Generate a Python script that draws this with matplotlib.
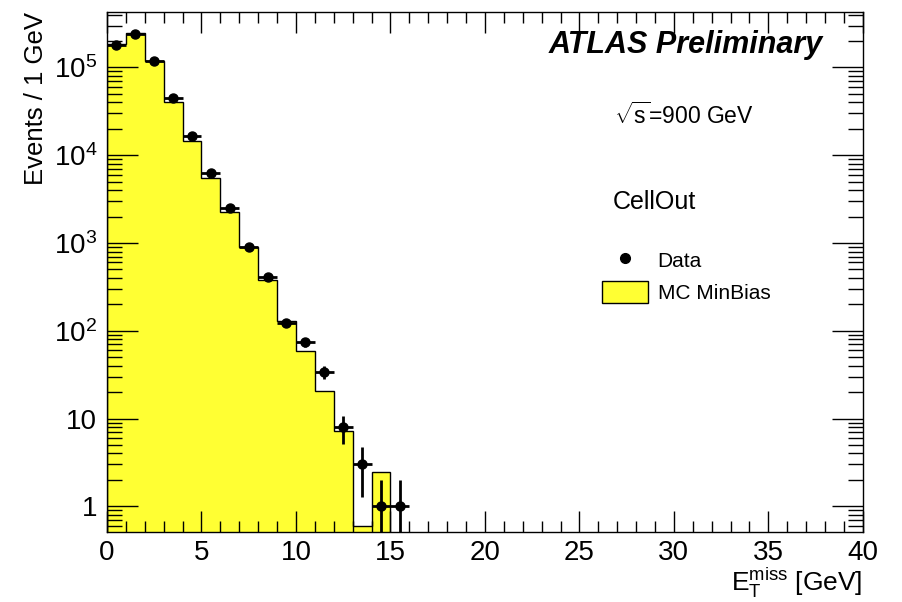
import numpy as np
import matplotlib
matplotlib.use("Agg")
import matplotlib.pyplot as plt
from matplotlib.patches import Patch
from matplotlib.lines import Line2D
from matplotlib.ticker import MultipleLocator, LogLocator, FixedLocator, FixedFormatter

plt.rcParams['font.family'] = ['Liberation Sans', 'DejaVu Sans']
plt.rcParams['mathtext.fontset'] = 'custom'
plt.rcParams['mathtext.rm'] = 'Liberation Sans'
plt.rcParams['mathtext.it'] = 'Liberation Sans:italic'

# MC MinBias histogram, 1 GeV bins from 0 to 15
mc_edges = np.arange(0, 16)
mc_counts = [185000, 246000, 118000, 40700, 14600, 5560, 2270, 895, 383,
             130, 59, 20.6, 7.2, 0.6, 2.43]

# data points (bin centres)
data_x = np.arange(0.5, 16, 1.0)
data_counts = [180000, 240000, 118000, 44800, 16600, 6350, 2520, 904, 405,
               124, 74, 34, 8, 3, 1, 1]

y_ticks = [1, 10, 100, 1000, 10000, 100000]
y_labels = ['1', '10', r'$10^{2}$', r'$10^{3}$', r'$10^{4}$', r'$10^{5}$']

fig = plt.figure(figsize=(9.02, 6.02), dpi=100)
ax = fig.add_axes([0.1186, 0.1163, 0.838, 0.864])

ax.stairs(mc_counts, mc_edges, baseline=1e-3, fill=True,
          facecolor='#ffff33', edgecolor='none')
ax.stairs(mc_counts, mc_edges, baseline=1e-3, fill=False,
          color='black', linewidth=1.0)

data_err = np.sqrt(data_counts)
ax.errorbar(data_x, data_counts, xerr=0.5, yerr=data_err, fmt='o',
            color='black', ms=6.5, elinewidth=2, capsize=0)

ax.set_yscale('log')
ax.set_xlim(0, 40)
ax.set_ylim(0.51, 4.3e5)

ax.xaxis.set_major_locator(MultipleLocator(5))
ax.xaxis.set_minor_locator(MultipleLocator(1))
ax.yaxis.set_major_locator(FixedLocator(y_ticks))
ax.yaxis.set_major_formatter(FixedFormatter(y_labels))
ax.yaxis.set_minor_locator(LogLocator(base=10, subs=np.arange(2, 10)))
ax.yaxis.set_minor_formatter(plt.NullFormatter())

ax.tick_params(which='both', direction='in', top=True, right=True, labelsize=20)
ax.tick_params(axis='x', which='major', length=15, width=1, pad=6)
ax.tick_params(axis='x', which='minor', length=8, width=1)
ax.tick_params(axis='y', which='major', length=22, width=1, pad=7)
ax.tick_params(axis='y', which='minor', length=11, width=1)
for s in ax.spines.values():
    s.set_linewidth(1)

ax.set_ylabel('Events / 1 GeV', fontsize=18.5, loc='top', labelpad=4)
ax.set_xlabel(r'$\mathrm{E_{T}^{miss}}$ [GeV]', fontsize=19, loc='right', labelpad=0)

ax.text(0.947, 0.9365, 'ATLAS Preliminary', transform=ax.transAxes,
        fontsize=22, fontweight='bold', fontstyle='italic', ha='right', va='center')
ax.text(0.671, 0.80, r'$\sqrt{\mathrm{s}}$=900 GeV', transform=ax.transAxes,
        fontsize=16.5, ha='left', va='center')
ax.text(0.669, 0.634, 'CellOut', transform=ax.transAxes,
        fontsize=18, ha='left', va='center')

handles = [Line2D([], [], marker='o', color='black', ls='none', ms=7),
           Patch(facecolor='#ffff33', edgecolor='black', linewidth=1)]
ax.legend(handles, ['Data', 'MC MinBias'], loc='upper left',
          bbox_to_anchor=(0.636, 0.573), frameon=False, fontsize=15,
          handlelength=2.2, handleheight=1.3, labelspacing=0.45,
          handletextpad=0.45, borderpad=0.2)

fig.savefig('out.png', dpi=100)
